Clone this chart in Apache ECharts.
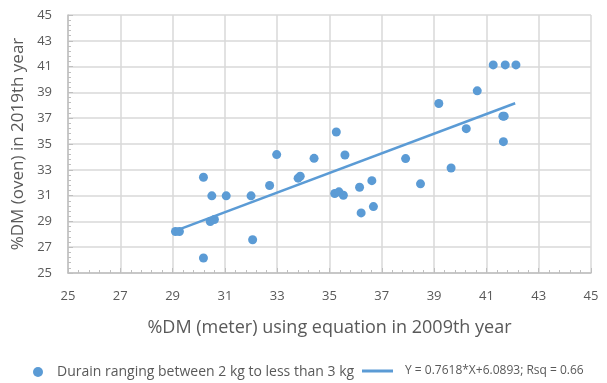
<!DOCTYPE html>
<html>
<head>
<meta charset="utf-8">
<script src="https://cdn.jsdelivr.net/npm/echarts@6/dist/echarts.min.js"></script>
<style>html,body{margin:0;padding:0;background:#fff;}#c{width:607px;height:383px;}</style>
</head>
<body>
<div id="c"></div>
<script>
// measured %DM (meter, 2009 equation) and %DM (oven, 2019)
const meterX = [29.11, 29.26, 30.18, 30.18, 30.50, 30.44, 30.60, 31.05, 32.00, 32.06, 32.71, 32.98, 33.80, 33.88, 34.41, 35.26, 35.20, 35.36, 35.53, 35.59, 36.15, 36.21, 36.62, 36.68, 37.91, 38.48, 39.18, 39.65, 40.23, 40.65, 41.26, 41.72, 42.13, 41.63, 41.68, 41.65];
const ovenY  = [28.22, 28.22, 26.16, 32.42, 30.98, 28.99, 29.15, 30.98, 30.98, 27.58, 31.78, 34.18, 32.35, 32.50, 33.89, 35.93, 31.16, 31.29, 31.03, 34.15, 31.65, 29.66, 32.16, 30.15, 33.87, 31.91, 38.14, 33.14, 36.19, 39.12, 41.13, 41.13, 41.13, 37.16, 37.16, 35.18];
// fitted trend line endpoints as drawn
const trendX = [29.1, 42.1];
const trendY = [28.26, 38.16];
const axisTicks = [25, 27, 29, 31, 33, 35, 37, 39, 41, 43, 45];
const scatterName = 'Durain ranging between 2 kg to less than 3 kg';
const lineName = 'Y = 0.7618*X+6.0893; Rsq = 0.66';

const pts = meterX.map((x, i) => [x, ovenY[i]]);
const trend = trendX.map((x, i) => [x, trendY[i]]);
const blue = '#5b9bd5';
const txt = '#595959';
const font = '"Open Sans", "Noto Sans", sans-serif';

function axis(name, gap, rotate, labelMargin, nameSize) {
  return {
    type: 'value', min: axisTicks[0], max: axisTicks[axisTicks.length - 1], interval: 2,
    name: name, nameLocation: 'middle', nameGap: gap, nameRotate: rotate,
    nameTextStyle: { color: txt, fontSize: nameSize, fontFamily: font },
    axisLine: { show: true, lineStyle: { color: '#bfbfbf', width: 1.5 } },
    axisTick: { show: true, inside: true, length: 5, lineStyle: { color: '#bfbfbf' } },
    minorTick: { show: true, splitNumber: 5, length: 3, lineStyle: { color: '#bfbfbf' } },
    axisLabel: { color: txt, fontSize: 13, fontFamily: font, margin: labelMargin },
    splitLine: { show: true, lineStyle: { color: '#d9d9d9', width: 1.5 } }
  };
}
const xA = axis('%DM (meter) using equation in 2009th year', 46, 0, 17, 18);
const yA = axis('%DM (oven) in 2019th year', 35, 90, 16, 17);
const chart = echarts.init(document.getElementById('c'), null, { renderer: 'canvas' });
chart.setOption({
  animation: false,
  backgroundColor: '#fff',
  textStyle: { fontFamily: font },
  grid: { left: 68, right: 16, top: 15, bottom: 110, containLabel: false },
  xAxis: xA,
  yAxis: yA,
  legend: [
    { data: [{ name: scatterName, icon: 'circle' }], left: 33, top: 365, padding: 0, itemWidth: 10, itemHeight: 10,
      textStyle: { color: txt, fontSize: 14, fontFamily: font, padding: [0, 0, 0, 9] } },
    { data: [{ name: lineName, icon: 'rect' }], left: 362, top: 365, padding: 0, itemWidth: 31, itemHeight: 3,
      textStyle: { color: txt, fontSize: 12, fontFamily: font, padding: [0, 0, 0, 7] } }
  ],
  series: [
    { name: scatterName, type: 'scatter', data: pts, symbolSize: 9, itemStyle: { color: blue, opacity: 1 } },
    { name: lineName, type: 'line', data: trend, showSymbol: false, symbol: 'none',
      lineStyle: { color: blue, width: 2.5 }, itemStyle: { color: blue } }
  ]
});
</script>
</body>
</html>
